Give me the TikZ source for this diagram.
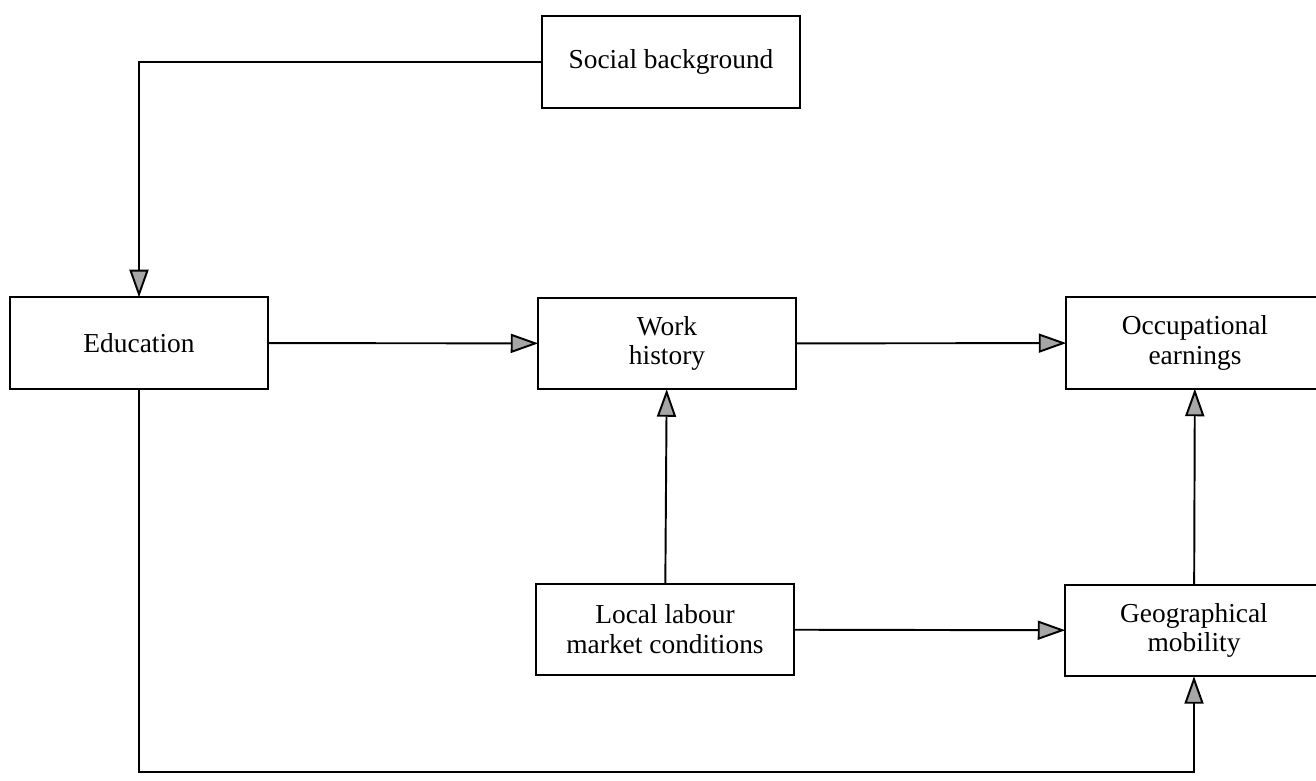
\documentclass[tikz,border=0pt]{standalone}
\usepackage{fontspec}
\setmainfont{Liberation Serif}
\usetikzlibrary{arrows.meta}

\tikzset{
  factor/.style={draw, line width=1.2pt, minimum width=5.15cm, minimum height=1.83cm,
    align=center, font=\fontsize{15.6}{17}\selectfont, inner sep=2pt, outer sep=0pt},
  link/.style={line width=1.1pt, -{Triangle[length=0.55cm, width=0.38cm, fill=gray!70]}}
}

\begin{document}
\begin{tikzpicture}
      \useasboundingbox (0,0) rectangle (26.32,15.62);
      \node[factor] (social) at (13.42,14.38){Social background};
      \node[factor] (edu) at (2.78,8.76){Education};
      \node[factor] (work) at (13.34,8.75){Work\\history};
      \node[factor] (occ) at (23.90,8.76){Occupational\\earnings};
      \node[factor] (local) at (13.30,3.03){Local labour\\market conditions};
      \node[factor] (geo) at (23.88,3.01){Geographical\\mobility};
      \coordinate (bot) at (23.88,0.18);

      \draw[link] (social.west) -| (edu.north);
      \draw (edu) edge[link] (work);
      \draw (work) edge[link] (occ);
      \draw (local) edge[link] (work);
      \draw (local) edge[link] (geo);
      \draw (geo) edge[link] (occ);
      \draw[link] (edu.south) |- (bot) -- (geo.south);
    \end{tikzpicture}
\end{document}
